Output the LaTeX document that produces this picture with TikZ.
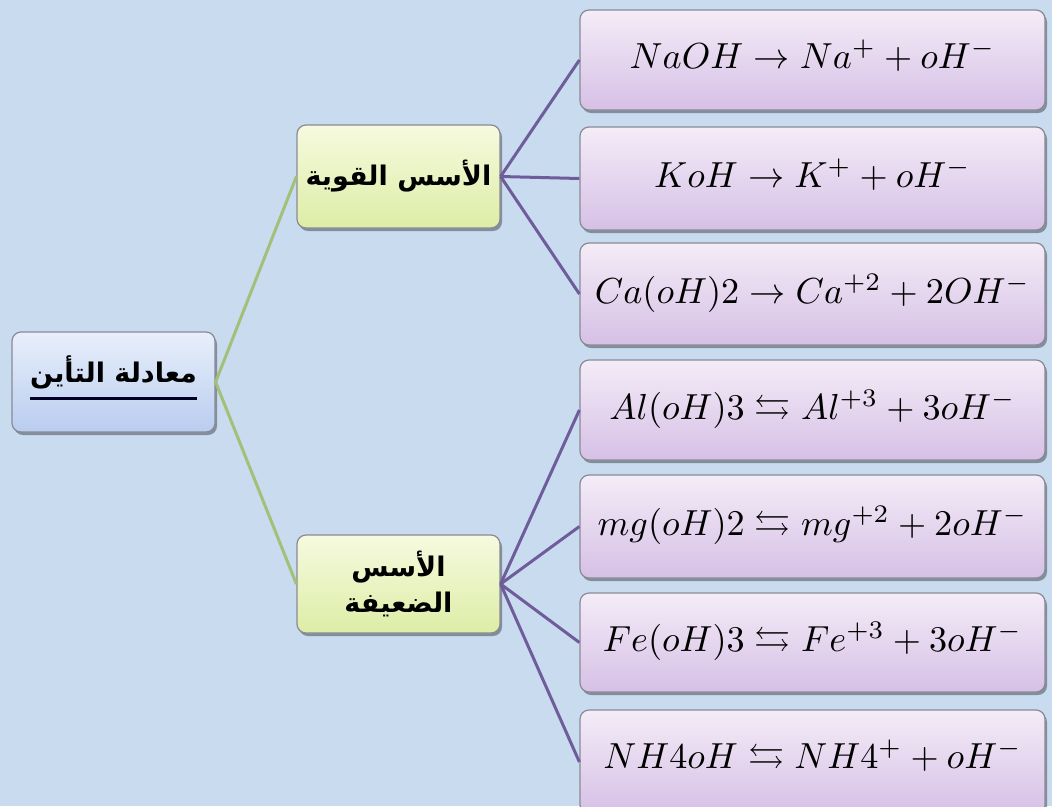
\documentclass[tikz,border=0pt]{standalone}
\usepackage{amssymb}
\usepackage{graphicx}
\usepackage{fontspec}
\newfontfamily\arabicfont[Script=Arabic]{DejaVu Sans}
\TeXXeTstate=1
\usetikzlibrary{shadows}
\definecolor{bgblue}{HTML}{C9DBEF}
\definecolor{greenline}{HTML}{A3C07A}
\definecolor{purpleline}{HTML}{6F5D9B}
\definecolor{boxborder}{HTML}{8A8A95}
\definecolor{roottop}{HTML}{E8EFFB}
\definecolor{rootbot}{HTML}{B9CDEF}
\definecolor{cattop}{HTML}{F6FADF}
\definecolor{catbot}{HTML}{DDEDA6}
\definecolor{eqtop}{HTML}{F4ECF7}
\definecolor{eqbot}{HTML}{D6C0E6}
\tikzset{
  basebox/.style={draw=boxborder, line width=1.2pt, rounded corners=9pt,
    drop shadow={shadow xshift=2pt, shadow yshift=-3pt, fill=black, opacity=0.35},
    inner sep=0pt},
  rootbox/.style={basebox, top color=roottop, bottom color=rootbot, minimum width=203pt, minimum height=100pt},
  catbox/.style={basebox, top color=cattop, bottom color=catbot, minimum width=203pt,
    font=\arabicfont\bfseries\fontsize{27}{40}\selectfont, align=center},
  eqbox/.style={basebox, top color=eqtop, bottom color=eqbot, minimum width=465pt},
  gline/.style={draw=greenline, line width=3pt},
  pline/.style={draw=purpleline, line width=3pt},
  ul/.style={draw=black!85!blue, line width=3pt}
}
\newcommand{\eqtxt}[2][11pt]{\raisebox{#1}{\scalebox{3.62}{$\mathsurround=0pt #2$}}}
\begin{document}
\begin{tikzpicture}[x=1pt,y=-1pt]
\fill[bgblue] (0,0) rectangle (1052,806);
\useasboundingbox (0,0) rectangle (1052,806);
% root
\node[rootbox] (root) at (113.5,382) {};
\node[font=\arabicfont\bfseries\fontsize{27}{40}\selectfont, inner sep=0pt] (roottxt) at (113.5,372) {\beginR معادلة التأين\endR};
\draw[ul] ([yshift=-10pt]roottxt.south west) -- ([yshift=-10pt]roottxt.south east);
% categories
\node[catbox, minimum height=103pt] (strong) at (398.5,176.5) {\raisebox{5pt}{\beginR الأسس القوية\endR}};
\node[catbox, minimum height=98pt] (weak) at (398.5,584) {\beginR الأسس\endR\\[-4pt] \beginR الضعيفة\endR};
% equations
\node[eqbox, minimum height=100pt] (b1) at (812.5,60) {\eqtxt{NaOH \rightarrow Na^{+} + oH^{-}}};
\node[eqbox, minimum height=103pt] (b2) at (812.5,178.5) {\eqtxt{KoH \rightarrow K^{+} + oH^{-}}};
\node[eqbox, minimum height=102pt] (b3) at (812.5,294) {\eqtxt{Ca(oH)2 \rightarrow Ca^{+2} + 2OH^{-}}};
\node[eqbox, minimum height=100pt] (b4) at (812.5,410) {\eqtxt{Al(oH)3 \leftrightarrows Al^{+3} + 3oH^{-}}};
\node[eqbox, minimum height=103pt] (b5) at (812.5,526.5) {\eqtxt{mg(oH)2 \leftrightarrows mg^{+2} + 2oH^{-}}};
\node[eqbox, minimum height=99pt] (b6) at (812.5,642.5) {\eqtxt{Fe(oH)3 \leftrightarrows Fe^{+3} + 3oH^{-}}};
\node[eqbox, minimum height=104pt] (b7) at (812.5,762) {\eqtxt[16pt]{NH4oH \leftrightarrows NH4^{+} + oH^{-}}};
% connectors
\draw[gline] (root.east) -- (strong.west);
\draw[gline] (root.east) -- (weak.west);
\foreach \b in {b1,b2,b3} \draw[pline] (strong.east) -- (\b.west);
\foreach \b in {b4,b5,b6,b7} \draw[pline] (weak.east) -- (\b.west);
\end{tikzpicture}
\end{document}
